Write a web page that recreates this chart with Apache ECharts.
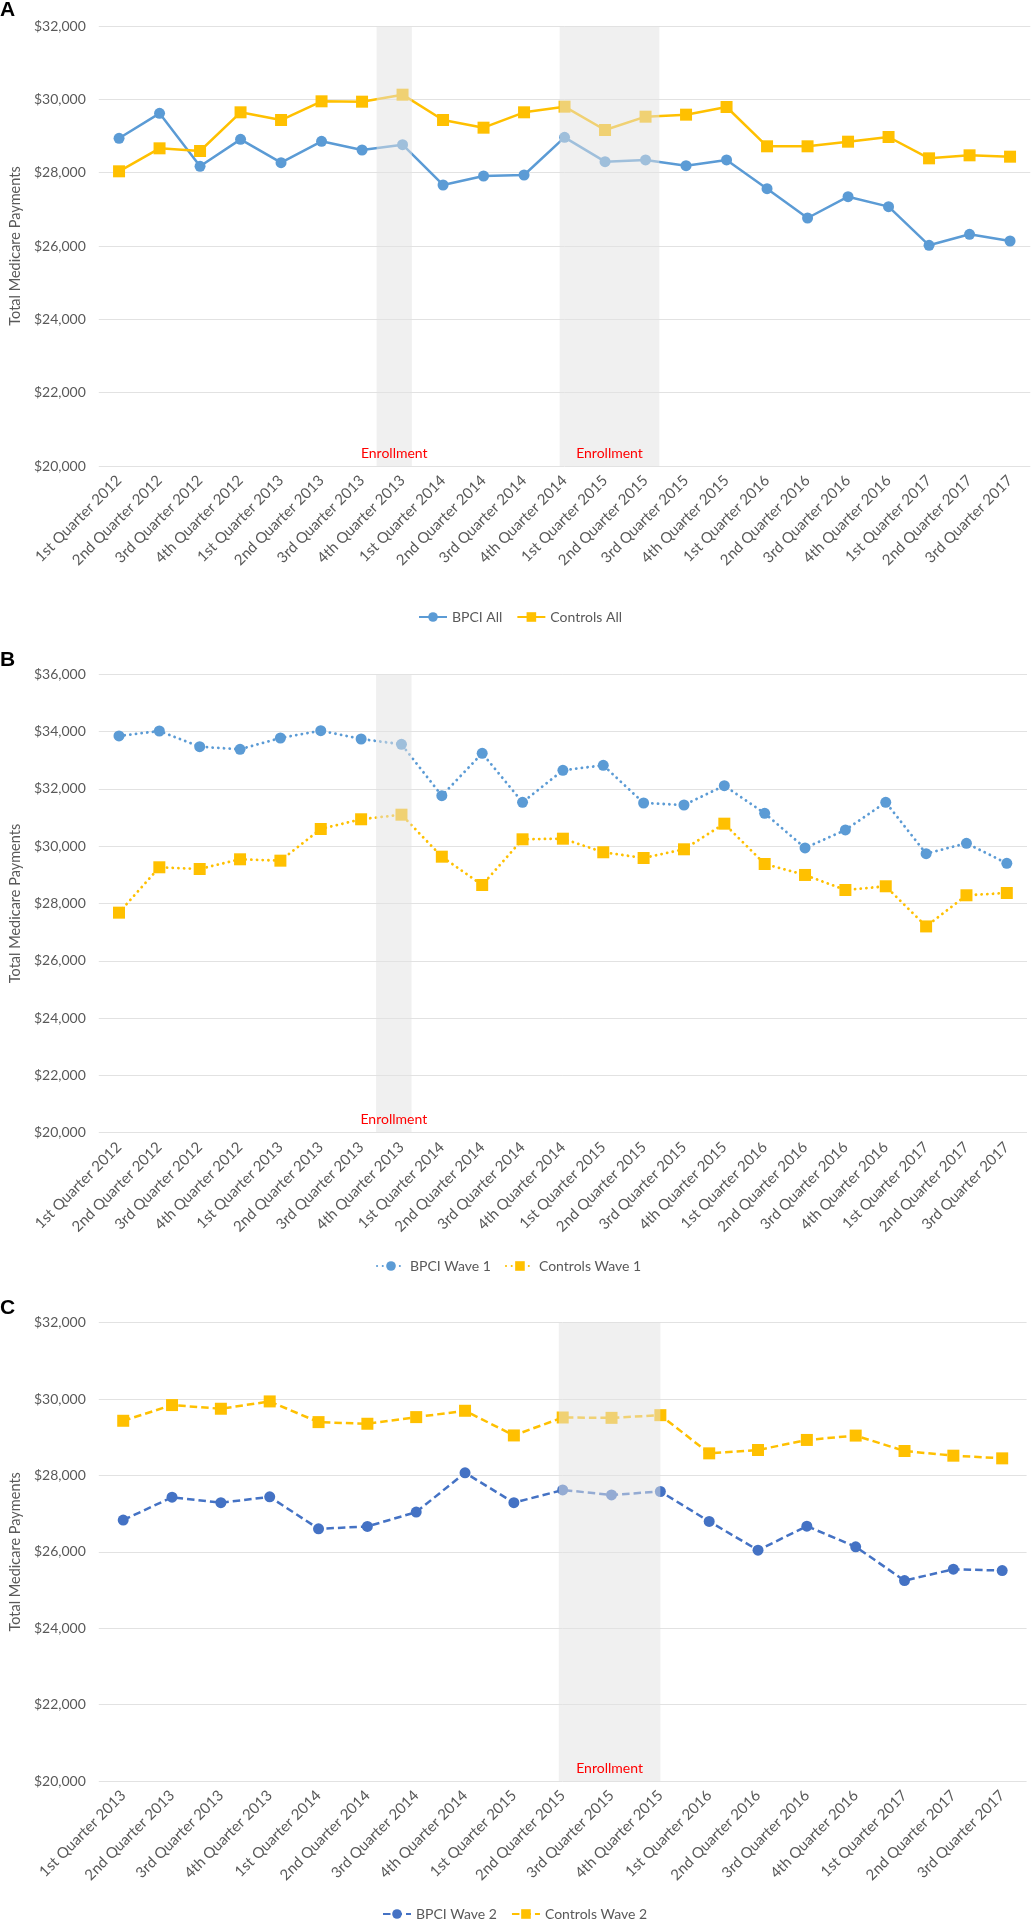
<!DOCTYPE html>
<html><head><meta charset="utf-8">
<script src="https://cdn.jsdelivr.net/npm/echarts@6/dist/echarts.min.js"></script>
<style>html,body{margin:0;padding:0;background:#fff}#c{width:1031px;height:1920px}</style>
</head><body><div id="c"></div>
<script>
// ---------- data ----------
const catsAB = ['1st Quarter 2012','2nd Quarter 2012','3rd Quarter 2012','4th Quarter 2012',
  '1st Quarter 2013','2nd Quarter 2013','3rd Quarter 2013','4th Quarter 2013',
  '1st Quarter 2014','2nd Quarter 2014','3rd Quarter 2014','4th Quarter 2014',
  '1st Quarter 2015','2nd Quarter 2015','3rd Quarter 2015','4th Quarter 2015',
  '1st Quarter 2016','2nd Quarter 2016','3rd Quarter 2016','4th Quarter 2016',
  '1st Quarter 2017','2nd Quarter 2017','3rd Quarter 2017'];
const catsC = ['1st Quarter 2013','2nd Quarter 2013','3rd Quarter 2013','4th Quarter 2013',
  '1st Quarter 2014','2nd Quarter 2014','3rd Quarter 2014','4th Quarter 2014',
  '1st Quarter 2015','2nd Quarter 2015','3rd Quarter 2015','4th Quarter 2015',
  '1st Quarter 2016','2nd Quarter 2016','3rd Quarter 2016','4th Quarter 2016',
  '1st Quarter 2017','2nd Quarter 2017','3rd Quarter 2017'];

const bpciAll     = [28937,29618,28173,28909,28273,28855,28618,28764,27664,27909,27936,28964,28300,28346,28191,28346,27564,26764,27345,27073,26019,26319,26136];
const controlsAll = [28037,28664,28591,29646,29436,29946,29936,30127,29436,29227,29646,29800,29164,29527,29582,29791,28719,28719,28845,28973,28391,28473,28436];

const bpciW1      = [33847,34021,33473,33382,33777,34032,33742,33557,31763,33243,31533,32650,32824,31508,31438,32112,31149,29938,30566,31533,29739,30102,29404];
const controlsW1  = [27680,29264,29205,29543,29495,30601,30940,31100,29634,28646,30241,30262,29788,29589,29892,30786,29379,28996,28472,28601,27200,28287,28367];

const bpciW2      = [26831,27430,27286,27440,26603,26665,27041,28070,27286,27620,27490,27580,26796,26044,26673,26131,25248,25545,25510];
const controlsW2  = [29432,29843,29747,29939,29397,29354,29528,29694,29048,29518,29509,29579,28579,28667,28930,29044,28641,28518,28448];

// enrollment periods, in category-index units (start, end)
const enrollA = [[6.36, 7.23], [10.88, 13.34]];
const enrollB = [[6.37, 7.25]];
const enrollC = [[8.92, 11.0]];
const enrollLabel = 'Enrollment';

const yTicksA = [20000, 32000, 2000];
const yTicksB = [20000, 36000, 2000];
const yTicksC = [20000, 32000, 2000];

const panelLabels = ['A', 'B', 'C'];
const yTitle = 'Total Medicare Payments';

// ---------- styling ----------
const FONT = 'Lato';
const GRAY = '#595959';
const BLUE = '#5B9BD5', BLUE2 = '#4472C4', GOLD = '#FFC000';

const grids = [
  {left: 79.3, width: 951, top: 26, height: 440},
  {left: 80, width: 947, top: 674.3, height: 458.4},
  {left: 80.4, width: 946.2, top: 1322.7, height: 458.3}
];

function catAxis(gi, data) {
  return {type: 'category', gridIndex: gi, data: data, boundaryGap: true,
    axisTick: {show: false}, axisLine: {show: false},
    axisLabel: {rotate: 45, interval: 0, margin: 12, color: GRAY, fontSize: 15, fontFamily: FONT}};
}
function valXAxis(gi, n) {
  return {type: 'value', gridIndex: gi, min: -0.5, max: n - 0.5, show: false};
}
function yAxis(gi, t) {
  return {type: 'value', gridIndex: gi, min: t[0], max: t[1], interval: t[2],
    name: yTitle, nameLocation: 'middle', nameGap: 64,
    nameTextStyle: {color: GRAY, fontSize: 14.5, fontFamily: FONT},
    axisLine: {show: false}, axisTick: {show: false},
    axisLabel: {margin: 13, color: GRAY, fontSize: 14, fontFamily: FONT,
      formatter: v => '$' + v.toLocaleString('en-US')},
    splitLine: {lineStyle: {color: '#E2E2E2', width: 1}}};
}
function line(name, data, gi, color, symbol, size, type) {
  const s = {type: 'line', name: name, data: data, xAxisIndex: gi * 2, yAxisIndex: gi,
    symbol: symbol, symbolSize: size, showSymbol: true, z: 2,
    itemStyle: {color: color, opacity: 1},
    lineStyle: {color: color, width: 2.5, type: 'solid'}};
  if (type === 'dot') { s.lineStyle.type = [0.1, 5.6]; s.lineStyle.cap = 'round'; s.lineStyle.width = 2.8; }
  if (type === 'dash') { s.lineStyle.type = [7.5, 4]; }
  return s;
}
function renderBand(params, api) {
  const x0 = api.coord([api.value(0), 0])[0];
  const x1 = api.coord([api.value(1), 0])[0];
  const cs = params.coordSys;
  return {type: 'group', children: [
    {type: 'rect', shape: {x: x0, y: cs.y, width: x1 - x0, height: cs.height},
      style: {fill: 'rgba(226,226,226,0.51)'}},
    {type: 'text', style: {text: enrollLabel, x: (x0 + x1) / 2, y: cs.y + cs.height - 13,
      fill: '#FF0000', font: '14px ' + FONT, align: 'center', verticalAlign: 'middle'}}
  ]};
}
function bands(gi, data) {
  return {type: 'custom', xAxisIndex: gi * 2 + 1, yAxisIndex: gi, data: data, z: 10,
    silent: true, encode: {x: [0, 1]}, renderItem: renderBand};
}
function legend(names, top, left) {
  return {data: names, top: top, left: left, padding: 0, itemWidth: 28, itemHeight: 12, itemGap: 14,
    textStyle: {color: GRAY, fontSize: 14, fontFamily: FONT}};
}

const chart = echarts.init(document.getElementById('c'), null, {renderer: 'canvas'});
chart.setOption({
  animation: false,
  backgroundColor: '#ffffff',
  grid: grids,
  xAxis: [catAxis(0, catsAB), valXAxis(0, catsAB.length),
          catAxis(1, catsAB), valXAxis(1, catsAB.length),
          catAxis(2, catsC),  valXAxis(2, catsC.length)],
  yAxis: [yAxis(0, yTicksA), yAxis(1, yTicksB), yAxis(2, yTicksC)],
  legend: [legend(['BPCI All', 'Controls All'], 610, 418),
           legend(['BPCI Wave 1', 'Controls Wave 1'], 1259, 376),
           legend(['BPCI Wave 2', 'Controls Wave 2'], 1907, 382)],
  graphic: panelLabels.map((t, i) => ({type: 'text', left: 0, top: [0, 650, 1298][i],
    style: {text: t, font: 'bold 21px "Liberation Sans"', fill: '#000'}})),
  series: [
    line('BPCI All', bpciAll, 0, BLUE, 'circle', 11, 'solid'),
    line('Controls All', controlsAll, 0, GOLD, 'rect', 12, 'solid'),
    bands(0, enrollA),
    line('BPCI Wave 1', bpciW1, 1, BLUE, 'circle', 11, 'dot'),
    line('Controls Wave 1', controlsW1, 1, GOLD, 'rect', 12, 'dot'),
    bands(1, enrollB),
    line('BPCI Wave 2', bpciW2, 2, BLUE2, 'circle', 11, 'dash'),
    line('Controls Wave 2', controlsW2, 2, GOLD, 'rect', 12, 'dash'),
    bands(2, enrollC)
  ]
});
</script>
</body></html>
